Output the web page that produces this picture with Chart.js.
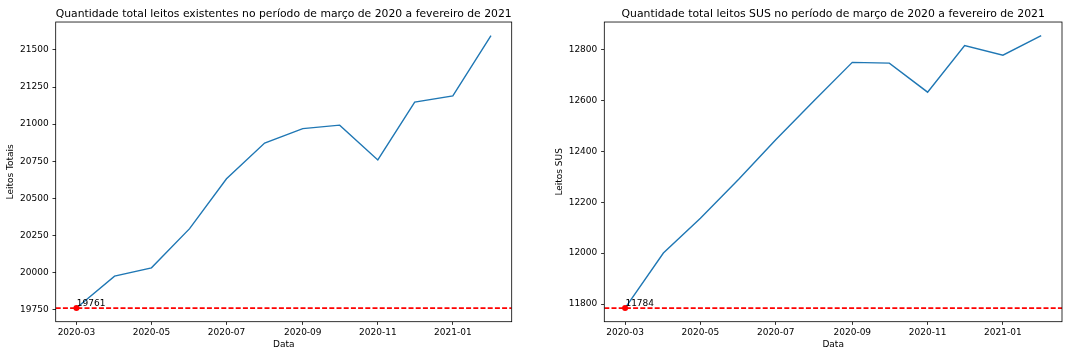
<!DOCTYPE html>
<html>
<head>
<meta charset="utf-8">
<script src="https://cdn.jsdelivr.net/npm/chart.js@4.4.1/dist/chart.umd.min.js"></script>
<style>
html,body{margin:0;padding:0;background:#fff;}
#wrap{position:relative;width:1072px;height:356px;overflow:hidden;}
canvas{position:absolute;top:0;}
</style>
</head>
<body>
<div id="wrap">
<canvas id="c1" width="536" height="356" style="left:0px"></canvas>
<canvas id="c2" width="536" height="356" style="left:536px"></canvas>
</div>
<script>
// ---- data ----
const months = ['2020-03','2020-04','2020-05','2020-06','2020-07','2020-08','2020-09','2020-10','2020-11','2020-12','2021-01','2021-02'];
const totalBeds = [19761, 19976, 20032, 20296, 20632, 20873, 20970, 20993, 20759, 21148, 21190, 21596];
const susBeds   = [11784, 12000, 12137, 12290, 12445, 12598, 12749, 12746, 12632, 12815, 12777, 12854];
const xTickLabels = ['2020-03','2020-05','2020-07','2020-09','2020-11','2021-01'];
const totalTicks = [19750, 20000, 20250, 20500, 20750, 21000, 21250, 21500];
const susTicks = [11800, 12000, 12200, 12400, 12600, 12800];
const titleTotal = 'Quantidade total leitos existentes no período de março de 2020 a fevereiro de 2021';
const titleSus = 'Quantidade total leitos SUS no período de março de 2020 a fevereiro de 2021';
const yLabelTotal = 'Leitos Totais';
const yLabelSus = 'Leitos SUS';
const xLabel = 'Data';

// ---- helpers ----
function dayOf(s){ const [y,m] = s.split('-').map(Number); return Date.UTC(y, m-1, 1)/86400000; }
const xDays = months.map(dayOf);
const tickDayToLabel = {};
xTickLabels.forEach(l => { tickDayToLabel[dayOf(l)] = l; });

Chart.defaults.font.family = "'DejaVu Sans', sans-serif";
Chart.defaults.font.size = 9;
Chart.defaults.color = '#000';

const decor = {
  id: 'decor',
  beforeDatasetsDraw(chart, args, opts){
    const {ctx, chartArea:a, scales:{y}} = chart;
    const yy = y.getPixelForValue(opts.refValue);
    ctx.save();
    ctx.beginPath(); ctx.rect(a.left, a.top, a.right-a.left, a.bottom-a.top); ctx.clip();
    ctx.strokeStyle = '#ff0000'; ctx.lineWidth = 1.6; ctx.setLineDash([5, 2.2]);
    ctx.beginPath(); ctx.moveTo(a.left, yy); ctx.lineTo(a.right, yy); ctx.stroke();
    ctx.restore();
  },
  afterDatasetsDraw(chart, args, opts){
    const {ctx, scales:{x,y}} = chart;
    const px = x.getPixelForValue(opts.refX), py = y.getPixelForValue(opts.refValue);
    ctx.save();
    ctx.fillStyle = '#000';
    ctx.font = "9px 'DejaVu Sans', sans-serif";
    ctx.textAlign = 'left'; ctx.textBaseline = 'alphabetic';
    ctx.fillText(String(opts.refValue), px + 0.3, py - 2);
    ctx.restore();
  },
  afterDraw(chart){
    const {ctx, chartArea:a} = chart;
    ctx.save();
    ctx.strokeStyle = '#000'; ctx.lineWidth = 0.8; ctx.setLineDash([]);
    ctx.strokeRect(a.left, a.top, a.right-a.left, a.bottom-a.top);
    ctx.restore();
  }
};

function makeChart(id, values, yTicks, title, yLabel, yAxisWidth, padRight, yTitlePad){
  const lo = Math.min(...values), hi = Math.max(...values);
  const yr = hi - lo;
  const x0 = xDays[0], x1 = xDays[xDays.length-1], xr = x1 - x0;
  return new Chart(document.getElementById(id), {
    type: 'line',
    data: {
      datasets: [
        {
          type: 'scatter',
          data: [{x: xDays[0], y: values[0]}],
          pointRadius: 3, pointBackgroundColor: '#ff0000', pointBorderWidth: 0,
          order: 0
        },
        {
          data: xDays.map((d, i) => ({x: d, y: values[i]})),
          borderColor: '#1f77b4', borderWidth: 1.4, pointRadius: 0, tension: 0, fill: false,
          order: 1
        }
      ]
    },
    options: {
      responsive: false, animation: false, devicePixelRatio: 1,
      layout: {padding: {left: 0, right: padRight, top: 0, bottom: 0}},
      plugins: {
        legend: {display: false},
        tooltip: {enabled: false},
        title: {
          display: true, text: title, fullSize: false, color: '#000',
          font: {size: 10.85, weight: 'normal'},
          padding: {top: 7.5, bottom: 1.5}
        },
        decor: {refValue: values[0], refX: xDays[0]}
      },
      scales: {
        x: {
          type: 'linear',
          min: x0 - 0.05*xr, max: x1 + 0.05*xr,
          afterBuildTicks: s => { s.ticks = xTickLabels.map(l => ({value: dayOf(l)})); },
          afterFit: s => { s.height = 34.3; },
          ticks: {
            autoSkip: false, maxRotation: 0, padding: 2, color: '#000',
            callback: v => tickDayToLabel[v] || ''
          },
          grid: {display: true, drawOnChartArea: false, drawTicks: true, tickLength: 3.2, color: '#000', lineWidth: 0.8},
          border: {display: false},
          title: {display: true, text: xLabel, color: '#000', font: {size: 9}, padding: {top: 2, bottom: 6.3}}
        },
        y: {
          type: 'linear',
          min: lo - 0.05*yr, max: hi + 0.05*yr,
          afterBuildTicks: s => { s.ticks = yTicks.map(v => ({value: v})); },
          afterFit: s => { s.width = yAxisWidth; },
          ticks: {padding: 3.8, color: '#000', callback: v => String(v)},
          grid: {display: true, drawOnChartArea: false, drawTicks: true, tickLength: 3.2, color: '#000', lineWidth: 0.8},
          border: {display: false},
          title: {display: true, text: yLabel, color: '#000', font: {size: 9}, padding: {top: yTitlePad, bottom: 0}}
        }
      }
    },
    plugins: [decor]
  });
}

makeChart('c1', totalBeds, totalTicks, titleTotal, yLabelTotal, 55.7, 24.3, 5.6);
makeChart('c2', susBeds, susTicks, titleSus, yLabelSus, 68.3, 10, 18.6);
</script>
</body>
</html>
